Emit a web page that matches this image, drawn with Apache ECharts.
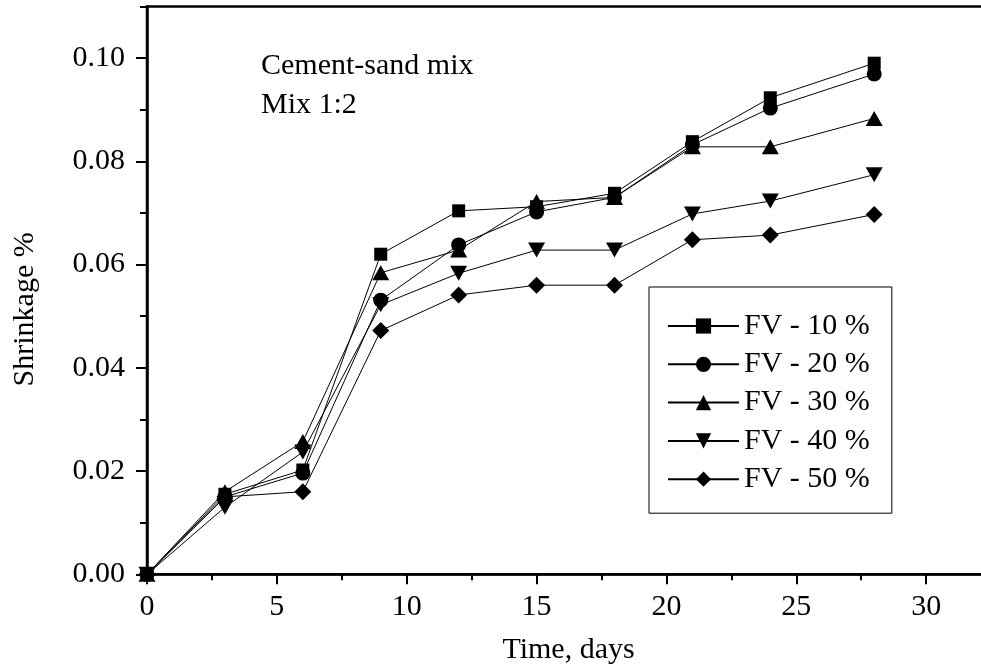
<!DOCTYPE html>
<html>
<head>
<meta charset="utf-8">
<script src="https://cdn.jsdelivr.net/npm/echarts@6/dist/echarts.min.js"></script>
<style>
  html, body { margin: 0; padding: 0; background: #fff; }
  #chart { width: 981px; height: 671px; }
</style>
</head>
<body>
<div id="chart"></div>
<script>
// Drying shrinkage of cement-sand mortar (mix 1:2) for various FV contents
const days = [0, 3, 6, 9, 12, 15, 18, 21, 24, 28];

const fv10 = [0, 0.0155, 0.0202, 0.0620, 0.0704, 0.0712, 0.0738, 0.0838, 0.0923, 0.0990];
const fv20 = [0, 0.0150, 0.0196, 0.0531, 0.0638, 0.0702, 0.0730, 0.0832, 0.0903, 0.0969];
const fv30 = [0, 0.0160, 0.0257, 0.0584, 0.0628, 0.0722, 0.0730, 0.0828, 0.0828, 0.0883];
const fv40 = [0, 0.0130, 0.0237, 0.0522, 0.0583, 0.0628, 0.0628, 0.0698, 0.0723, 0.0774];
const fv50 = [0, 0.0150, 0.0160, 0.0472, 0.0541, 0.0560, 0.0560, 0.0648, 0.0657, 0.0697];

const seriesNames = ['FV - 10 %', 'FV - 20 %', 'FV - 30 %', 'FV - 40 %', 'FV - 50 %'];

const yMajorTicks = [0, 0.02, 0.04, 0.06, 0.08, 0.10];
const yMinorTicks = [0.01, 0.03, 0.05, 0.07, 0.09, 0.11];
const xTickStep = 5;

const FONT = "'Liberation Serif', 'Times New Roman', serif";
const BLACK = '#000';

function lineSeries(name, values, symbol, size, rotate) {
  return {
    name: name,
    type: 'line',
    data: days.map((d, i) => [d, values[i]]),
    symbol: symbol,
    symbolSize: size,
    symbolRotate: rotate || 0,
    showSymbol: true,
    clip: false,
    itemStyle: { color: BLACK },
    lineStyle: { color: BLACK, width: 1 },
    emphasis: { disabled: true }
  };
}

const chart = echarts.init(document.getElementById('chart'), null, { renderer: 'canvas' });

chart.setOption({
  animation: false,
  backgroundColor: '#fff',
  title: {
    text: 'Cement-sand mix\nMix 1:2',
    left: 261,
    top: 47,
    padding: 0,
    textStyle: { fontFamily: FONT, fontSize: 30, fontWeight: 'normal', color: BLACK, lineHeight: 39 }
  },
  legend: {
    orient: 'vertical',
    left: 649,
    top: 287,
    padding: [24, 22, 19, 18],
    itemWidth: 71,
    itemHeight: 19,
    itemGap: 8.3,
    borderColor: BLACK,
    borderWidth: 1,
    selectedMode: false,
    data: seriesNames,
    textStyle: { fontFamily: FONT, fontSize: 30, color: BLACK }
  },
  grid: {
    left: 147,
    top: 6.4,
    width: 909,
    height: 567.9,
    outerBoundsMode: 'none',
    containLabel: false,
    show: true,
    borderColor: BLACK,
    borderWidth: 2.5,
    backgroundColor: 'transparent'
  },
  xAxis: {
    type: 'value',
    min: 0,
    max: 35,
    interval: xTickStep,
    axisLine: { show: true, onZero: false, lineStyle: { color: BLACK, width: 2.5 } },
    axisTick: { show: true, length: 10, lineStyle: { color: BLACK, width: 2 } },
    minorTick: { show: true, splitNumber: 2, length: 6, lineStyle: { color: BLACK, width: 2 } },
    splitLine: { show: false },
    minorSplitLine: { show: false },
    axisLabel: { margin: 18, color: BLACK, fontFamily: FONT, fontSize: 30 },
    name: 'Time, days',
    nameLocation: 'middle',
    nameGap: 61,
    nameTextStyle: { fontFamily: FONT, fontSize: 30, color: BLACK, padding: [0, 66, 0, 0] }
  },
  yAxis: [
    {
      type: 'value',
      position: 'left',
      min: 0,
      max: 0.11,
      axisLine: { show: true, onZero: false, lineStyle: { color: BLACK, width: 2.5 } },
      axisTick: { show: true, length: 11, customValues: yMajorTicks, lineStyle: { color: BLACK, width: 2 } },
      axisLabel: {
        customValues: yMajorTicks,
        formatter: v => v.toFixed(2),
        margin: 22,
        color: BLACK,
        fontFamily: FONT,
        fontSize: 30
      },
      splitLine: { show: false },
      name: 'Shrinkage %',
      nameLocation: 'middle',
      nameRotate: 90,
      nameGap: 107,
      nameTextStyle: { fontFamily: FONT, fontSize: 30, color: BLACK, padding: [0, 38, 0, 0] }
    },
    {
      type: 'value',
      position: 'left',
      min: 0,
      max: 0.11,
      axisLine: { show: false },
      axisTick: { show: true, length: 7, customValues: yMinorTicks, lineStyle: { color: BLACK, width: 2 } },
      axisLabel: { show: false },
      splitLine: { show: false }
    }
  ],
  series: [
    lineSeries(seriesNames[0], fv10, 'rect', 13, 0),
    lineSeries(seriesNames[1], fv20, 'circle', 15, 0),
    lineSeries(seriesNames[2], fv30, 'triangle', [17, 15], 0),
    lineSeries(seriesNames[3], fv40, 'triangle', [17, 15], 180),
    lineSeries(seriesNames[4], fv50, 'diamond', 17, 0)
  ]
});
</script>
</body>
</html>
